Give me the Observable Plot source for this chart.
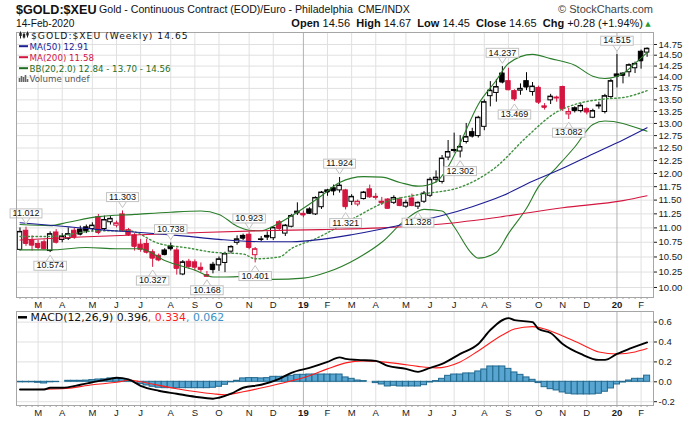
<!DOCTYPE html>
<html>
<head>
<meta charset="utf-8">
<script src="https://cdn.jsdelivr.net/npm/d3@7"></script>
<script src="https://cdn.jsdelivr.net/npm/@observablehq/plot@0.6"></script>
<style>
html,body{margin:0;padding:0;background:#fff;}
#page{position:relative;width:700px;height:421px;overflow:hidden;background:#fff;}
#main{position:absolute;left:0;top:30px;width:700px;height:280px;}
#macd{position:absolute;left:0;top:310px;width:700px;height:111px;}
#overlay{position:absolute;left:0;top:0;pointer-events:none;}
svg{display:block;}
</style>
</head>
<body>
<div id="page"><div id="main"></div><div id="macd"></div></div>
<script>
// ---------- DATA (weekly candles, first week starts Mon 12-Feb-2018) ----------
const open = [10.62,10.95,10.78,10.72,10.75,10.60,10.92,10.79,10.81,10.95, 10.97,11.01,10.98,11.19,10.98,11.10,11.04,11.24,10.96,10.87,
  10.71,10.72,10.58,10.52,10.61,10.68,10.61,10.21,10.42,10.41, 10.32,10.20,10.37,10.36,10.40,10.59,10.74,10.86,10.88,10.53,
  10.79,10.86,10.82,11.10,10.90,11.02,11.26,11.25,11.33,11.24, 11.37,11.68,11.72,11.68,11.68,11.47,11.42,11.52,11.70,11.56,
  11.47,11.51,11.45,11.51,11.38,11.53,11.38,11.47,11.58,11.88, 11.84,12.31,12.44,12.43,12.62,12.82,12.74,12.93,13.58,13.65,
  14.08,13.91,13.69,13.70,13.91,13.67,13.76,13.36,13.49,13.53, 13.78,13.19,13.32,13.26,13.30,13.12,13.36,13.24,13.56,14.06,
  14.08,14.11,14.20,14.58,14.56];
const high = [11.00,11.012,10.86,10.78,10.79,10.93,10.97,10.90,11.00,11.00, 11.03,11.05,11.09,11.24,11.21,11.20,11.12,11.303,10.99,10.90,
  10.80,10.80,10.62,10.55,10.64,10.738,10.65,10.44,10.46,10.45, 10.40,10.26,10.41,10.50,10.58,10.69,10.86,10.89,10.923,10.66,
  10.85,10.93,11.02,11.13,11.06,11.24,11.45,11.30,11.36,11.56, 11.66,11.70,11.78,11.924,11.70,11.60,11.50,11.66,11.78,11.62,
  11.55,11.53,11.58,11.55,11.50,11.61,11.47,11.66,11.92,12.05, 12.35,12.65,12.80,12.75,13.00,12.90,13.15,13.50,13.90,13.95,
  14.237,14.20,13.72,13.85,14.10,13.88,13.80,13.42,13.62,13.58, 13.80,13.32,13.35,13.42,13.33,13.30,13.45,13.62,13.95,14.515,
  14.10,14.30,14.34,14.62,14.67];
const low = [10.60,10.68,10.60,10.62,10.62,10.574,10.72,10.74,10.78,10.80, 10.86,10.90,10.93,10.88,10.95,11.05,11.00,10.93,10.85,10.60,
  10.58,10.55,10.327,10.42,10.52,10.60,10.20,10.19,10.30,10.27, 10.24,10.168,10.22,10.26,10.24,10.55,10.70,10.78,10.62,10.401,
  10.76,10.78,10.78,10.95,10.85,11.00,11.22,11.18,11.24,11.22, 11.33,11.57,11.58,11.63,11.321,11.40,11.38,11.50,11.53,11.50,
  11.40,11.33,11.42,11.38,11.35,11.38,11.328,11.44,11.55,11.82, 11.80,12.25,12.40,12.302,12.58,12.70,12.70,12.85,13.35,13.45,
  13.85,13.70,13.469,13.60,13.70,13.58,13.40,13.28,13.40,13.45, 13.25,13.082,13.22,13.22,13.18,13.10,13.30,13.20,13.52,13.76,
  13.85,14.00,14.08,14.18,14.45];
const close = [10.93,10.73,10.70,10.66,10.64,10.89,10.75,10.85,10.89,10.84, 10.89,10.95,11.04,10.92,11.14,11.16,11.08,10.95,10.88,10.68,
  10.63,10.58,10.48,10.45,10.54,10.64,10.31,10.41,10.34,10.33, 10.29,10.18,10.29,10.46,10.55,10.67,10.80,10.82,10.66,10.63,
  10.80,10.84,11.00,10.99,11.04,11.21,11.29,11.23,11.26,11.54, 11.64,11.65,11.67,11.77,11.38,11.56,11.47,11.64,11.56,11.55,
  11.45,11.35,11.54,11.40,11.45,11.40,11.45,11.62,11.88,11.92, 12.29,12.42,12.46,12.52,12.72,12.74,13.12,13.45,13.70,13.78,
  13.89,13.72,13.52,13.74,13.78,13.79,13.45,13.34,13.57,13.55, 13.31,13.24,13.27,13.37,13.24,13.26,13.38,13.58,13.91,14.02,
  14.04,14.27,14.30,14.37,14.65];

// overlays (week index -> value)
const ma50Idx = [0,7,13,20,27,33,40,45,50,55,60,65,70,75,80,85,90,95,100,104];
const ma50 = [11.09,11.03,10.97,10.92,10.86,10.80,10.76,10.76,10.80,10.88,10.98,11.10,11.22,11.38,11.58,11.85,12.10,12.38,12.66,12.91];
const ma200Idx = [0,10,20,30,40,50,60,70,80,90,100,104];
const ma200 = [10.79,10.84,10.88,10.92,10.95,10.97,11.00,11.07,11.20,11.36,11.49,11.58];
const bbUpperIdx = [0,5,8,13,19,25,30,33,36,38,40,42,46,50,53,57,60,63,66,69,71,73,76,79,81,85,88,92,95,97,100,102,104];
const bbUpper = [11.06,11.04,11.10,11.20,11.24,11.28,11.30,11.24,11.03,10.96,10.95,11.03,11.28,11.58,11.83,11.94,11.93,11.83,11.76,11.84,12.13,12.60,13.40,13.93,14.31,14.52,14.42,14.27,14.02,13.97,14.08,14.31,14.56];
const bbLowerIdx = [0,5,11,16,20,24,29,32,34,38,42,47,51,56,60,64,67,70,72,75,76,79,81,84,86,89,92,95,97,100,102,104];
const bbLower = [10.62,10.62,10.66,10.64,10.64,10.44,10.28,10.17,10.17,10.18,10.13,10.15,10.25,10.48,10.75,11.15,11.33,11.30,11.02,10.55,10.48,10.58,10.90,11.35,11.75,12.12,12.52,12.98,13.05,13.00,12.92,12.84];
const bbMidIdx = [0,5,13,18,23,28,32,37,39,43,45,49,55,61,66,73,79,84,89,92,97,100,104];
const bbMid = [10.85,10.85,10.95,10.95,10.73,10.65,10.58,10.55,10.47,10.50,10.64,10.81,11.15,11.48,11.60,11.74,12.13,12.72,13.24,13.40,13.52,13.55,13.70];

// labelled highs / lows
const highLabelIdx = [1,17,25,38,53,80,99];
const highLabelVal = [11.012,11.303,10.738,10.923,11.924,14.237,14.515];
const lowLabelIdx = [5,22,31,39,54,66,73,82,91];
const lowLabelVal = [10.574,10.327,10.168,10.401,11.321,11.328,12.302,13.469,13.082];

// MACD(12,26,9)
const macdIdx = [0,4,5,7,10,12,15,16,18,20,23,26,29,32,33,35,37,40,43,45,48,51,53,54,56,59,61,64,66,68,70,73,76,78,81,82,85,86,88,90,93,96,97,99,101,104];
const macdVal = [-0.078,-0.078,-0.06,-0.06,-0.03,-0.005,0.03,0.04,0.025,-0.04,-0.09,-0.12,-0.15,-0.17,-0.16,-0.12,-0.06,-0.03,0.03,0.09,0.14,0.20,0.245,0.23,0.22,0.21,0.16,0.13,0.10,0.14,0.18,0.28,0.38,0.52,0.64,0.62,0.60,0.53,0.49,0.38,0.28,0.22,0.22,0.28,0.33,0.396];
const signalIdx = [0,7,12,17,18,20,26,32,34,37,43,48,51,54,57,60,63,66,69,73,76,80,82,85,87,90,93,96,99,102,104];
const signalVal = [-0.078,-0.07,-0.03,0.005,0.018,0.0,-0.07,-0.12,-0.13,-0.10,-0.02,0.06,0.13,0.19,0.21,0.20,0.18,0.155,0.14,0.20,0.31,0.47,0.53,0.555,0.53,0.46,0.38,0.30,0.28,0.30,0.334];
const histVal = [-0.005,-0.005,-0.005,-0.01,-0.017,-0.005,-0.003,0.0,0.01,0.01, 0.01,0.012,0.017,0.023,0.025,0.034,0.034,0.027,0.01,0.0,
  -0.023,-0.037,-0.05,-0.06,-0.064,-0.064,-0.064,-0.064,-0.064,-0.064, -0.064,-0.064,-0.06,-0.05,-0.03,-0.005,0.01,0.034,0.037,0.037,
  0.034,0.037,0.05,0.05,0.05,0.06,0.07,0.07,0.073,0.073, 0.073,0.073,
  0.073,0.073,0.044,0.03,0.013,0.007,0.0,-0.013,-0.027,-0.047, -0.04,-0.047,-0.047,-0.047,-0.047,-0.034,-0.007,0.007,0.03,0.06,
  0.073,0.073,0.084,0.084,0.104,0.124,0.154,0.154,0.154,0.13, 0.094,0.07,0.044,0.02,-0.013,-0.054,-0.074,-0.087,-0.107,-0.12,
  -0.127,-0.127,-0.127,-0.127,-0.12,-0.1,-0.067,-0.027,-0.007,0.013, 0.03,0.03,0.062];

// ticks
const priceTicks = [10.00,10.25,10.50,10.75,11.00,11.25,11.50,11.75,12.00,12.25,12.50,12.75,13.00,13.25,13.50,13.75,14.00,14.25,14.50,14.75];
const macdTicks = [-0.2,0.0,0.2,0.4,0.6];
const monthLetters = ["J","F","M","A","M","J","J","A","S","O","N","D"];
const firstWeek = Date.UTC(2018, 1, 12);

// ---------- derived structures ----------
const DAY = 864e5;
const weekDate = i => new Date(firstWeek + i * 7 * DAY);
const N = close.length;
const monthTicks = d3.range(1, N).filter(i => weekDate(i).getUTCMonth() !== weekDate(i - 1).getUTCMonth());
const yearTicks = monthTicks.filter(i => weekDate(i).getUTCMonth() === 0);
const tickLabel = i => { const d = weekDate(i), m = d.getUTCMonth(); return m === 0 ? String(d.getUTCFullYear() % 100).padStart(2, "0") : monthLetters[m]; };
const series = (idx, vals) => idx.map((i, k) => ({i, v: vals[k]}));
const candles = close.map((c, i) => ({i, o: open[i], h: high[i], l: low[i], c, up: i === 0 || c >= close[i - 1]}));
const RED = "#d3163f", GREEN = "#2a7d2a", NAVY = "#1d1d94", GRID = "#e0e0e0", YEARGRID = "#b2b2b2";
const candleColor = d => d.up ? "#000000" : RED;
const bodyFill = d => d.c >= d.o ? "#ffffff" : candleColor(d);
const gridColor = i => yearTicks.includes(i) ? YEARGRID : GRID;
const xDomain = [-0.58, 105.06];
const SANS = "'Liberation Sans', Arial, sans-serif";
const DEJA = "'DejaVu Sans', Verdana, sans-serif";
const axisStyle = {fontFamily: SANS, fontSize: "9.5px", color: "#1a1a1a", background: "#fff", overflow: "visible"};

const mainPlot = Plot.plot({
  width: 700, height: 280, marginTop: 2, marginRight: 47, marginBottom: 13, marginLeft: 16,
  style: axisStyle,
  x: {domain: xDomain, ticks: monthTicks, tickFormat: tickLabel, tickSize: 0, tickPadding: 4, label: null},
  y: {type: "log", domain: [9.841, 15.036], ticks: priceTicks, tickFormat: d => d.toFixed(2), axis: "right", tickSize: 3, tickPadding: 2, label: null},
  marks: [
    Plot.ruleY(priceTicks, {stroke: GRID}),
    Plot.ruleX(monthTicks, {stroke: gridColor}),
    Plot.ruleX(d3.range(N), {stroke: "#9a9a9a", insetTop: 265, insetBottom: -2}),
    Plot.ruleX(candles, {x: "i", y1: "l", y2: "h", stroke: candleColor}),
    Plot.rect(candles, {x1: d => d.i - 0.37, x2: d => d.i + 0.37, y1: "o", y2: "c", fill: bodyFill, stroke: candleColor}),
    Plot.ruleY(candles, {x1: d => d.i - 0.37, x2: d => d.i + 0.37, y: "c", stroke: candleColor}),
    Plot.line(series(bbUpperIdx, bbUpper), {x: "i", y: "v", stroke: GREEN, strokeWidth: 1.1, curve: "monotone-x"}),
    Plot.line(series(bbLowerIdx, bbLower), {x: "i", y: "v", stroke: GREEN, strokeWidth: 1.1, curve: "monotone-x"}),
    Plot.line(series(bbMidIdx, bbMid), {x: "i", y: "v", stroke: "#3f8f3f", strokeWidth: 1.4, strokeDasharray: "1.5,2.5", curve: "monotone-x"}),
    Plot.line(series(ma200Idx, ma200), {x: "i", y: "v", stroke: RED, strokeWidth: 1.1, curve: "monotone-x"}),
    Plot.line(series(ma50Idx, ma50), {x: "i", y: "v", stroke: NAVY, strokeWidth: 1.1, curve: "monotone-x"}),
    Plot.text(series(highLabelIdx, highLabelVal), {x: "i", y: "v", text: d => d.v.toFixed(3), dy: -14, fontSize: 9, fill: "#111"}),
    Plot.text(series(lowLabelIdx, lowLabelVal), {x: "i", y: "v", text: d => d.v.toFixed(3), dy: 13, fontSize: 9, fill: "#111"}),
    Plot.frame({stroke: "#a6a6a6"})
  ]
});

const macdPlot = Plot.plot({
  width: 700, height: 111, marginTop: 1, marginRight: 47, marginBottom: 16, marginLeft: 16,
  style: axisStyle,
  x: {domain: xDomain, ticks: monthTicks, tickFormat: tickLabel, tickSize: 0, tickPadding: 4, label: null},
  y: {domain: [-0.2382, 0.7065], ticks: macdTicks, tickFormat: d => d.toFixed(1), axis: "right", tickSize: 3, tickPadding: 2, label: null},
  marks: [
    Plot.ruleY(macdTicks, {stroke: GRID}),
    Plot.ruleX(monthTicks, {stroke: gridColor}),
    Plot.ruleX(d3.range(N), {stroke: "#9a9a9a", insetTop: 94, insetBottom: -2}),
    Plot.rect(histVal.map((v, i) => ({i, v})), {x1: d => d.i - 0.5, x2: d => d.i + 0.5, y1: d => 0, y2: "v", fill: "#57a5d0", stroke: "#22698f", strokeWidth: 1}),
    Plot.line(series(signalIdx, signalVal), {x: "i", y: "v", stroke: "#ff1c1c", strokeWidth: 1.1, curve: "monotone-x"}),
    Plot.line(series(macdIdx, macdVal), {x: "i", y: "v", stroke: "#000", strokeWidth: 1.9, curve: "monotone-x"}),
    Plot.frame({stroke: "#a6a6a6"})
  ]
});

document.getElementById("main").appendChild(mainPlot);
document.getElementById("macd").appendChild(macdPlot);

// bold year tick labels
[mainPlot, macdPlot].forEach(svg => {
  svg.querySelectorAll("text").forEach(t => {
    if (!t.closest('g[aria-label="text"]') && yearTicks.map(tickLabel).includes(t.textContent)) t.style.fontWeight = "bold";
  });
});

// boxes with pointers behind the high/low labels
(function boxLabels(svg) {
  const ns = "http://www.w3.org/2000/svg";
  const base = svg.getBoundingClientRect();
  const groups = Array.from(svg.querySelectorAll('g[aria-label="text"]'));
  if (!groups.length) return;
  const layer = document.createElementNS(ns, "g");
  groups[0].parentNode.insertBefore(layer, groups[0]);
  groups.forEach((g, k) => {
    const isHigh = k === 0;
    g.querySelectorAll("text").forEach(t => {
      const r = t.getBoundingClientRect();
      const x = r.left - base.left - 2.5, w = r.width + 5;
      const y = r.top - base.top + 0.8, h = r.height - 1;
      const cx = x + w / 2;
      const yb = isHigh ? y + h : y, tip = isHigh ? yb + 6 : yb - 6;
      const p = document.createElementNS(ns, "path");
      p.setAttribute("d", `M${cx - 4},${yb}L${cx},${tip}L${cx + 4},${yb}`);
      p.setAttribute("fill", "#fff"); p.setAttribute("stroke", "#c2c2c2");
      const rect = document.createElementNS(ns, "rect");
      rect.setAttribute("x", x); rect.setAttribute("y", y); rect.setAttribute("width", w); rect.setAttribute("height", h);
      rect.setAttribute("fill", "#fff"); rect.setAttribute("stroke", "#c2c2c2");
      layer.appendChild(p); layer.appendChild(rect);
    });
  });
})(mainPlot);

// ---------- header, legends (overlay) ----------
const ov = d3.select("#page").append("svg").attr("id", "overlay").attr("width", 700).attr("height", 421);
ov.append("text").attr("x", 16).attr("y", 13.5).attr("font-family", SANS).attr("font-weight", "bold").attr("font-size", 12.6).attr("fill", "#111").text("$GOLD:$XEU");
ov.append("text").attr("x", 99).attr("y", 13).attr("font-family", SANS).attr("font-size", 10.6).attr("fill", "#111").text("Gold - Continuous Contract (EOD)/Euro - Philadelphia");
ov.append("text").attr("x", 358).attr("y", 13).attr("font-family", SANS).attr("font-size", 10.6).attr("fill", "#111").text("CME/INDX");
ov.append("text").attr("x", 653).attr("y", 13).attr("text-anchor", "end").attr("font-family", SANS).attr("font-size", 11).attr("fill", "#444").text("© StockCharts.com");
ov.append("text").attr("x", 16).attr("y", 26.5).attr("font-family", SANS).attr("font-size", 10.2).attr("fill", "#111").text("14-Feb-2020");
const hdr = ov.append("text").attr("x", 643).attr("y", 26.5).attr("text-anchor", "end").attr("font-family", SANS).attr("font-size", 11).attr("fill", "#111").style("white-space", "pre");
[["Open", 1], [" 14.56  ", 0], ["High", 1], [" 14.67  ", 0], ["Low", 1], [" 14.45  ", 0], ["Close", 1], [" 14.65  ", 0], ["Chg", 1], [" +0.28 (+1.94%)", 0]]
  .forEach(([t, b]) => hdr.append("tspan").attr("font-weight", b ? "bold" : null).text(t));
ov.append("text").attr("x", 648).attr("y", 25.5).attr("text-anchor", "middle").attr("font-family", DEJA).attr("font-size", 7).attr("fill", "#2e9a2e").text("▲");

// main legend
const lg = ov.append("g");
[[20.5, 31.5, 38.5, 33, 36], [24, 32.5, 38.5, 34, 37.5], [27.5, 31.5, 37.5, 33, 35.5]].forEach(([x, y1, y2, b1, b2]) => {
  lg.append("line").attr("x1", x).attr("x2", x).attr("y1", y1).attr("y2", y2).attr("stroke", "#222");
  lg.append("rect").attr("x", x - 1.2).attr("y", b1).attr("width", 2.4).attr("height", b2 - b1).attr("fill", "#222");
});
lg.append("text").attr("x", 31).attr("y", 38.6).attr("font-family", DEJA).attr("font-size", 9.2).attr("letter-spacing", 1).attr("fill", "#111").text("$GOLD:$XEU (Weekly) 14.65");
[["MA(50) 12.91", NAVY, 46.2], ["MA(200) 11.58", RED, 57.2], ["BB(20,2.0) 12.84 - 13.70 - 14.56", "#1f6e1f", 68.2]].forEach(([t, c, y]) => {
  lg.append("line").attr("x1", 19).attr("x2", 28).attr("y1", y).attr("y2", y).attr("stroke", c).attr("stroke-width", 2);
  lg.append("text").attr("x", 29.5).attr("y", y + 3.3).attr("font-family", DEJA).attr("font-size", 8.7).attr("fill", c).text(t);
});
[[19.5, 4], [21.5, 6], [23.5, 5], [25.5, 7], [27.5, 3]].forEach(([x, h]) => lg.append("rect").attr("x", x - 0.8).attr("y", 82 - h).attr("width", 1.6).attr("height", h).attr("fill", "#666"));
lg.append("text").attr("x", 29.5).attr("y", 82.3).attr("font-family", DEJA).attr("font-size", 8.7).attr("fill", "#555").text("Volume undef");

// MACD legend
ov.append("line").attr("x1", 18).attr("x2", 27).attr("y1", 317.3).attr("y2", 317.3).attr("stroke", "#000").attr("stroke-width", 2.5);
const ml = ov.append("text").attr("x", 30.5).attr("y", 321.2).attr("font-family", DEJA).attr("font-size", 10.9).style("white-space", "pre");
ml.append("tspan").attr("fill", "#111").text("MACD(12,26,9) 0.396");
ml.append("tspan").attr("fill", "#ff1c1c").text(", 0.334");
ml.append("tspan").attr("fill", "#3b93c6").text(", 0.062");
</script>
</body>
</html>
